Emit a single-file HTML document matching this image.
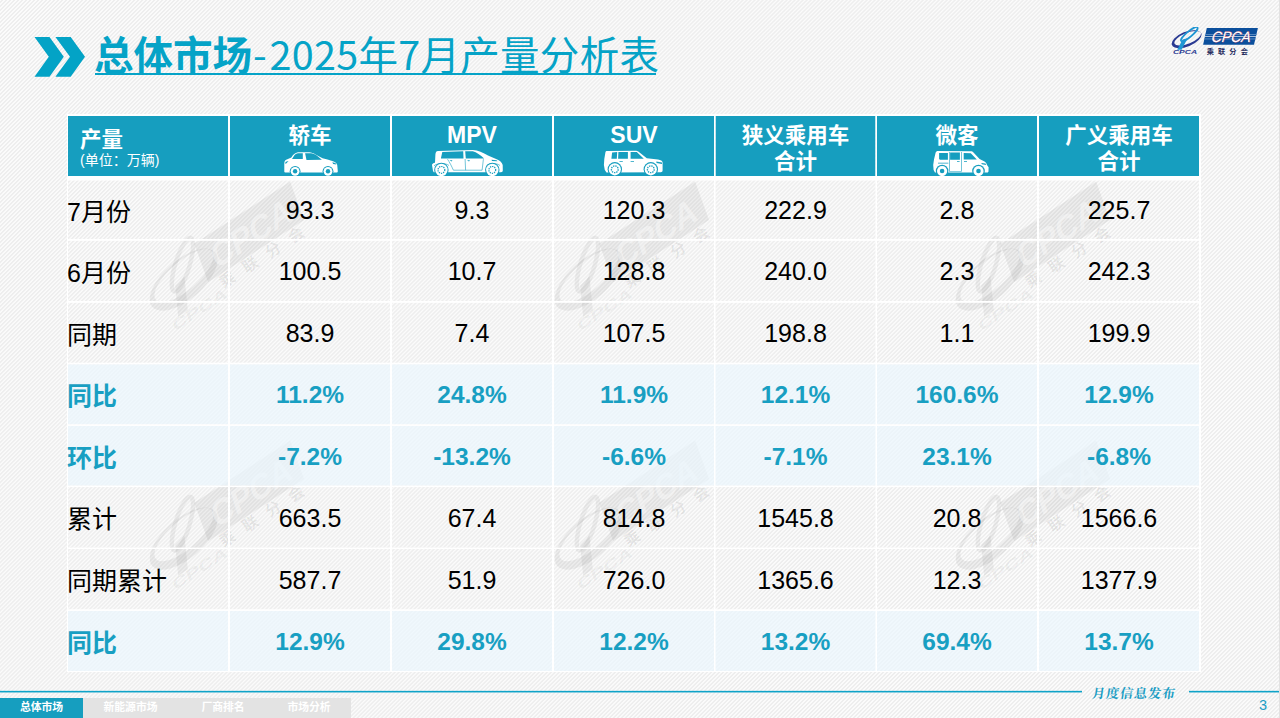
<!DOCTYPE html>
<html lang="zh-CN">
<head>
<meta charset="utf-8">
<title>总体市场-2025年7月产量分析表</title>
<style>
*{margin:0;padding:0;box-sizing:border-box}
html,body{width:1280px;height:718px;overflow:hidden}
body{position:relative;background-color:#f4f4f4;
background-image:repeating-linear-gradient(135deg,#fbfbfb 0px,#fbfbfb 0.8px,#eeeeee 1.3px,#eeeeee 2.3px,#fbfbfb 2.83px);
font-family:"Liberation Sans","Noto Sans CJK SC",sans-serif}
.abs{position:absolute}
#edge{position:absolute;right:0;top:0;width:1px;height:718px;background:#e2e2e2}
#title{position:absolute;left:94px;top:24.5px;height:56px;white-space:nowrap;color:#05a3c7;
font-family:"Noto Sans CJK SC","Liberation Sans",sans-serif;font-size:39.5px;line-height:56px}
#title b{font-weight:700}
#title span{font-weight:400;letter-spacing:0.3px}
#title .dash{font-style:normal;margin-left:1px;letter-spacing:2.8px}
#uline{position:absolute;left:95px;top:73px;width:561px;height:2px;background:#05a3c7}
.cell{position:absolute;display:flex;align-items:center;justify-content:center;text-align:center}
.hd{color:#fff;font-family:"Liberation Sans","Noto Sans CJK SC",sans-serif;font-weight:700;font-size:21.5px;line-height:26px}
.lbl{justify-content:flex-start;font-family:"Liberation Sans","Noto Sans CJK SC",sans-serif;font-size:25px;color:#000}
.num{font-family:"Liberation Sans",sans-serif;font-size:25px;color:#000}
.hl{color:#189fc2;font-weight:700}
.num.hl{font-size:24.5px;padding-top:1.6px}
.num{padding-top:1.8px}
.lbl{padding-left:0;margin-left:-1px}
.hdl{font-family:"Liberation Sans",sans-serif;font-size:23px;margin-top:-1px}
.tab{position:absolute;top:698px;height:20px;color:#fff;font-family:"Liberation Sans","Noto Sans CJK SC",sans-serif;font-weight:700;font-size:10.8px;line-height:18px;text-align:center}
</style>
</head>
<body>
<div id="edge"></div>

<!-- header chevrons -->
<svg class="abs" style="left:0;top:0" width="100" height="90" viewBox="0 0 100 90">
<polygon fill="#03a3c6" points="34.5,37 49.5,37 63.8,56.8 49.5,76.7 34.5,76.7 48.8,56.8"/>
<polygon fill="#03a3c6" points="55.4,37 70.7,37 85,56.8 70.7,76.7 55.4,76.7 70,56.8"/>
</svg>

<svg class="abs" style="left:1170px;top:27px" width="92" height="30" viewBox="0 0 92 30">
<path fill="#2a3a92" fill-rule="evenodd" d="M31.25,6.28 A15.8,7.4 -22 1 1 1.95,18.12 A15.8,7.4 -22 1 1 31.25,6.28 Z M30.87,5.98 A14.2,5.4 -22 1 1 4.53,16.62 A14.2,5.4 -22 1 1 30.87,5.98 Z"/>
<ellipse cx="19.3" cy="7.2" rx="10.6" ry="2.7" transform="rotate(-40 19.3 7.2)" fill="none" stroke="#1f96d3" stroke-width="1.7"/>
<polygon fill="#1f96d3" points="12.6,12.4 17.6,11.2 11.6,22.8 7.2,22.8"/>
<polygon fill="#0b4f9c" points="36.8,1.1 87.9,1.1 84,17.8 33.1,17.8"/>
<rect x="35.2" y="7" width="51.5" height="0.9" fill="#5d8fc6"/>
<rect x="34.7" y="9.1" width="51.5" height="0.9" fill="#b9cde6"/>
<rect x="34.1" y="11.5" width="51.5" height="0.9" fill="#5d8fc6"/>
<g transform="translate(40.5,15.3) skewX(-16)"><text x="0" y="0" font-family="Liberation Sans, sans-serif" font-size="15" textLength="39" lengthAdjust="spacingAndGlyphs" fill="#fff" stroke="#e0474c" stroke-width="0.5" paint-order="stroke">CPCA</text></g>
<text x="36.8" y="26.6" font-family="Noto Sans CJK SC, sans-serif" font-weight="700" font-size="7.2" letter-spacing="4.1" fill="#1f2a5c">乘联分会</text>
<text x="3" y="26.8" font-family="Liberation Sans, sans-serif" font-weight="700" font-style="italic" font-size="5.4" textLength="24" lengthAdjust="spacingAndGlyphs" fill="#2a3a92">CPCA</text>
</svg>
<div id="title"><b>总体市场</b><span><i class="dash">-</i>2025年7月产量分析表</span></div>
<div id="uline"></div>

<!-- WATERMARKS -->
<svg class="abs" style="left:0;top:0;pointer-events:none" width="1280" height="718"><g transform="translate(246.9,228.65) rotate(-33) scale(2.2) translate(-60.45,-9.45)"><g transform="translate(7,1) translate(16,12) scale(1.2) translate(-16,-12)"><path fill="#000" fill-opacity="0.055" fill-rule="evenodd" d="M32.25,10.00 A15.8,7.4 -8 1 1 0.95,14.40 A15.8,7.4 -8 1 1 32.25,10.00 Z M31.36,9.05 A14.0,5.2 -8 1 1 3.64,12.95 A14.0,5.2 -8 1 1 31.36,9.05 Z"/>
<ellipse cx="19.3" cy="7.2" rx="10.6" ry="2.7" transform="rotate(-40 19.3 7.2)" fill="none" stroke="#000" stroke-opacity="0.05" stroke-width="1.7"/>
<polygon fill="#000" fill-opacity="0.05" points="12.6,12.4 17.6,11.2 11.6,22.8 7.2,22.8"/>
<g transform="translate(3,26.8) skewX(-16)"><text x="0" y="0" font-family="Liberation Sans, sans-serif" font-weight="700" font-size="5.4" textLength="24" lengthAdjust="spacingAndGlyphs" fill="#000" fill-opacity="0.05">CPCA</text></g></g>
<polygon fill="#000" fill-opacity="0.055" points="36.6,2.2 88.6,2.2 84.4,20.3 32.4,20.3"/>
<g transform="translate(38.5,17.4) skewX(-16)"><text x="0" y="0" font-family="Liberation Sans, sans-serif" font-weight="700" font-size="15" textLength="42" lengthAdjust="spacingAndGlyphs" fill="#fff" fill-opacity="0.4">CPCA</text></g>
<text x="36.8" y="26.6" font-family="Noto Sans CJK SC, sans-serif" font-size="7.2" letter-spacing="5.2" font-weight="700" fill="#000" fill-opacity="0.07">乘联分会</text>
</g>
<g transform="translate(651.9,228.65) rotate(-33) scale(2.2) translate(-60.45,-9.45)"><g transform="translate(7,1) translate(16,12) scale(1.2) translate(-16,-12)"><path fill="#000" fill-opacity="0.055" fill-rule="evenodd" d="M32.25,10.00 A15.8,7.4 -8 1 1 0.95,14.40 A15.8,7.4 -8 1 1 32.25,10.00 Z M31.36,9.05 A14.0,5.2 -8 1 1 3.64,12.95 A14.0,5.2 -8 1 1 31.36,9.05 Z"/>
<ellipse cx="19.3" cy="7.2" rx="10.6" ry="2.7" transform="rotate(-40 19.3 7.2)" fill="none" stroke="#000" stroke-opacity="0.05" stroke-width="1.7"/>
<polygon fill="#000" fill-opacity="0.05" points="12.6,12.4 17.6,11.2 11.6,22.8 7.2,22.8"/>
<g transform="translate(3,26.8) skewX(-16)"><text x="0" y="0" font-family="Liberation Sans, sans-serif" font-weight="700" font-size="5.4" textLength="24" lengthAdjust="spacingAndGlyphs" fill="#000" fill-opacity="0.05">CPCA</text></g></g>
<polygon fill="#000" fill-opacity="0.055" points="36.6,2.2 88.6,2.2 84.4,20.3 32.4,20.3"/>
<g transform="translate(38.5,17.4) skewX(-16)"><text x="0" y="0" font-family="Liberation Sans, sans-serif" font-weight="700" font-size="15" textLength="42" lengthAdjust="spacingAndGlyphs" fill="#fff" fill-opacity="0.4">CPCA</text></g>
<text x="36.8" y="26.6" font-family="Noto Sans CJK SC, sans-serif" font-size="7.2" letter-spacing="5.2" font-weight="700" fill="#000" fill-opacity="0.07">乘联分会</text>
</g>
<g transform="translate(1052.9,228.65) rotate(-33) scale(2.2) translate(-60.45,-9.45)"><g transform="translate(7,1) translate(16,12) scale(1.2) translate(-16,-12)"><path fill="#000" fill-opacity="0.055" fill-rule="evenodd" d="M32.25,10.00 A15.8,7.4 -8 1 1 0.95,14.40 A15.8,7.4 -8 1 1 32.25,10.00 Z M31.36,9.05 A14.0,5.2 -8 1 1 3.64,12.95 A14.0,5.2 -8 1 1 31.36,9.05 Z"/>
<ellipse cx="19.3" cy="7.2" rx="10.6" ry="2.7" transform="rotate(-40 19.3 7.2)" fill="none" stroke="#000" stroke-opacity="0.05" stroke-width="1.7"/>
<polygon fill="#000" fill-opacity="0.05" points="12.6,12.4 17.6,11.2 11.6,22.8 7.2,22.8"/>
<g transform="translate(3,26.8) skewX(-16)"><text x="0" y="0" font-family="Liberation Sans, sans-serif" font-weight="700" font-size="5.4" textLength="24" lengthAdjust="spacingAndGlyphs" fill="#000" fill-opacity="0.05">CPCA</text></g></g>
<polygon fill="#000" fill-opacity="0.055" points="36.6,2.2 88.6,2.2 84.4,20.3 32.4,20.3"/>
<g transform="translate(38.5,17.4) skewX(-16)"><text x="0" y="0" font-family="Liberation Sans, sans-serif" font-weight="700" font-size="15" textLength="42" lengthAdjust="spacingAndGlyphs" fill="#fff" fill-opacity="0.4">CPCA</text></g>
<text x="36.8" y="26.6" font-family="Noto Sans CJK SC, sans-serif" font-size="7.2" letter-spacing="5.2" font-weight="700" fill="#000" fill-opacity="0.07">乘联分会</text>
</g>
<g transform="translate(246.9,487.65) rotate(-33) scale(2.2) translate(-60.45,-9.45)"><g transform="translate(7,1) translate(16,12) scale(1.2) translate(-16,-12)"><path fill="#000" fill-opacity="0.055" fill-rule="evenodd" d="M32.25,10.00 A15.8,7.4 -8 1 1 0.95,14.40 A15.8,7.4 -8 1 1 32.25,10.00 Z M31.36,9.05 A14.0,5.2 -8 1 1 3.64,12.95 A14.0,5.2 -8 1 1 31.36,9.05 Z"/>
<ellipse cx="19.3" cy="7.2" rx="10.6" ry="2.7" transform="rotate(-40 19.3 7.2)" fill="none" stroke="#000" stroke-opacity="0.05" stroke-width="1.7"/>
<polygon fill="#000" fill-opacity="0.05" points="12.6,12.4 17.6,11.2 11.6,22.8 7.2,22.8"/>
<g transform="translate(3,26.8) skewX(-16)"><text x="0" y="0" font-family="Liberation Sans, sans-serif" font-weight="700" font-size="5.4" textLength="24" lengthAdjust="spacingAndGlyphs" fill="#000" fill-opacity="0.05">CPCA</text></g></g>
<polygon fill="#000" fill-opacity="0.055" points="36.6,2.2 88.6,2.2 84.4,20.3 32.4,20.3"/>
<g transform="translate(38.5,17.4) skewX(-16)"><text x="0" y="0" font-family="Liberation Sans, sans-serif" font-weight="700" font-size="15" textLength="42" lengthAdjust="spacingAndGlyphs" fill="#fff" fill-opacity="0.4">CPCA</text></g>
<text x="36.8" y="26.6" font-family="Noto Sans CJK SC, sans-serif" font-size="7.2" letter-spacing="5.2" font-weight="700" fill="#000" fill-opacity="0.07">乘联分会</text>
</g>
<g transform="translate(651.9,487.65) rotate(-33) scale(2.2) translate(-60.45,-9.45)"><g transform="translate(7,1) translate(16,12) scale(1.2) translate(-16,-12)"><path fill="#000" fill-opacity="0.055" fill-rule="evenodd" d="M32.25,10.00 A15.8,7.4 -8 1 1 0.95,14.40 A15.8,7.4 -8 1 1 32.25,10.00 Z M31.36,9.05 A14.0,5.2 -8 1 1 3.64,12.95 A14.0,5.2 -8 1 1 31.36,9.05 Z"/>
<ellipse cx="19.3" cy="7.2" rx="10.6" ry="2.7" transform="rotate(-40 19.3 7.2)" fill="none" stroke="#000" stroke-opacity="0.05" stroke-width="1.7"/>
<polygon fill="#000" fill-opacity="0.05" points="12.6,12.4 17.6,11.2 11.6,22.8 7.2,22.8"/>
<g transform="translate(3,26.8) skewX(-16)"><text x="0" y="0" font-family="Liberation Sans, sans-serif" font-weight="700" font-size="5.4" textLength="24" lengthAdjust="spacingAndGlyphs" fill="#000" fill-opacity="0.05">CPCA</text></g></g>
<polygon fill="#000" fill-opacity="0.055" points="36.6,2.2 88.6,2.2 84.4,20.3 32.4,20.3"/>
<g transform="translate(38.5,17.4) skewX(-16)"><text x="0" y="0" font-family="Liberation Sans, sans-serif" font-weight="700" font-size="15" textLength="42" lengthAdjust="spacingAndGlyphs" fill="#fff" fill-opacity="0.4">CPCA</text></g>
<text x="36.8" y="26.6" font-family="Noto Sans CJK SC, sans-serif" font-size="7.2" letter-spacing="5.2" font-weight="700" fill="#000" fill-opacity="0.07">乘联分会</text>
</g>
<g transform="translate(1052.9,487.65) rotate(-33) scale(2.2) translate(-60.45,-9.45)"><g transform="translate(7,1) translate(16,12) scale(1.2) translate(-16,-12)"><path fill="#000" fill-opacity="0.055" fill-rule="evenodd" d="M32.25,10.00 A15.8,7.4 -8 1 1 0.95,14.40 A15.8,7.4 -8 1 1 32.25,10.00 Z M31.36,9.05 A14.0,5.2 -8 1 1 3.64,12.95 A14.0,5.2 -8 1 1 31.36,9.05 Z"/>
<ellipse cx="19.3" cy="7.2" rx="10.6" ry="2.7" transform="rotate(-40 19.3 7.2)" fill="none" stroke="#000" stroke-opacity="0.05" stroke-width="1.7"/>
<polygon fill="#000" fill-opacity="0.05" points="12.6,12.4 17.6,11.2 11.6,22.8 7.2,22.8"/>
<g transform="translate(3,26.8) skewX(-16)"><text x="0" y="0" font-family="Liberation Sans, sans-serif" font-weight="700" font-size="5.4" textLength="24" lengthAdjust="spacingAndGlyphs" fill="#000" fill-opacity="0.05">CPCA</text></g></g>
<polygon fill="#000" fill-opacity="0.055" points="36.6,2.2 88.6,2.2 84.4,20.3 32.4,20.3"/>
<g transform="translate(38.5,17.4) skewX(-16)"><text x="0" y="0" font-family="Liberation Sans, sans-serif" font-weight="700" font-size="15" textLength="42" lengthAdjust="spacingAndGlyphs" fill="#fff" fill-opacity="0.4">CPCA</text></g>
<text x="36.8" y="26.6" font-family="Noto Sans CJK SC, sans-serif" font-size="7.2" letter-spacing="5.2" font-weight="700" fill="#000" fill-opacity="0.07">乘联分会</text>
</g></svg>
<!-- TABLE GRID -->
<svg class="abs" style="left:0;top:0" width="1280" height="718">
<rect x="68" y="116" width="160.0" height="60" fill="#169ebf"/>
<rect x="230" y="116" width="160.0" height="60" fill="#169ebf"/>
<rect x="392" y="116" width="160.0" height="60" fill="#169ebf"/>
<rect x="554" y="116" width="160.0" height="60" fill="#169ebf"/>
<rect x="715.5" y="116" width="160.0" height="60" fill="#169ebf"/>
<rect x="877" y="116" width="160.0" height="60" fill="#169ebf"/>
<rect x="1039" y="116" width="160.0" height="60" fill="#169ebf"/>
<rect x="68" y="364.3" width="1131" height="60.0" fill="#ebf6fd" fill-opacity="0.7"/>
<rect x="68" y="425.9" width="1131" height="59.7" fill="#ebf6fd" fill-opacity="0.7"/>
<rect x="68" y="610.9" width="1131" height="60.1" fill="#ebf6fd" fill-opacity="0.7"/>
<rect x="67" y="114" width="1" height="558" fill="#fff"/>
<rect x="228" y="114" width="2" height="558" fill="#fff"/>
<rect x="390" y="114" width="2" height="558" fill="#fff"/>
<rect x="552" y="114" width="2" height="558" fill="#fff"/>
<rect x="714" y="114" width="1.5" height="558" fill="#fff"/>
<rect x="875.5" y="114" width="1.5" height="558" fill="#fff"/>
<rect x="1037" y="114" width="2" height="558" fill="#fff"/>
<rect x="1199" y="114" width="2" height="558" fill="#fff"/>
<rect x="67" y="114" width="1134" height="2.0" fill="#fff"/>
<rect x="67" y="176" width="1134" height="4.5" fill="#fff"/>
<rect x="67" y="239" width="1134" height="1.8" fill="#fff"/>
<rect x="67" y="301" width="1134" height="1.8" fill="#fff"/>
<rect x="67" y="362.7" width="1134" height="1.6" fill="#fff"/>
<rect x="67" y="424.3" width="1134" height="1.6" fill="#fff"/>
<rect x="67" y="485.6" width="1134" height="1.5" fill="#fff"/>
<rect x="67" y="547.6" width="1134" height="1.4" fill="#fff"/>
<rect x="67" y="609.3" width="1134" height="1.6" fill="#fff"/>
<rect x="67" y="671" width="1134" height="1.0" fill="#fff"/>
</svg>



<!-- HEADER TEXT -->
<div class="abs hd" style="left:80px;top:126.5px;text-align:left">产量</div>
<div class="abs" style="left:80px;top:150px;color:#fff;font-family:'Liberation Sans','Noto Sans CJK SC',sans-serif;font-size:14px;line-height:20px;white-space:nowrap">(单位：万辆)</div>
<div class="abs hd" style="left:230px;top:123px;width:160px;text-align:center">轿车</div>
<div class="abs hd hdl" style="left:392px;top:123px;width:160px;text-align:center">MPV</div>
<div class="abs hd hdl" style="left:554px;top:123px;width:160px;text-align:center">SUV</div>
<div class="abs hd" style="left:715.5px;top:123px;width:160px;text-align:center">狭义乘用车<br>合计</div>
<div class="abs hd" style="left:877px;top:123px;width:160px;text-align:center">微客</div>
<div class="abs hd" style="left:1039px;top:123px;width:160px;text-align:center">广义乘用车<br>合计</div>

<!-- sedan -->
<svg class="abs" style="left:282px;top:148px" width="60" height="28" viewBox="0 0 60 28">
<path fill="#fff" d="M2.3,23.8 L2.3,15.5 C2.3,12.8 3.5,11.6 5.4,11.3 L9.3,9.6 C11,6.5 13,5.1 15.9,4.3 L27.2,4.3 C29.5,4.4 31.5,5.2 33.5,6.6 L40.5,10.2 L45.5,11.6 L51,13.2 C53.5,14 54.6,15.2 55.2,16.8 L55.8,23.3 C55.8,24.1 55.3,24.6 54.6,24.6 L3.3,24.6 C2.7,24.6 2.3,24.3 2.3,23.8 Z"/>
<path fill="#169ebf" d="M10,10.9 L12.7,6.8 C13.8,5.8 14.8,5.3 15.9,5.2 L20.8,5.2 L20.8,10.9 Z M23.1,5.2 L29,5.3 C31,5.5 32.8,6.2 34.4,7.2 L39.9,11.8 L24.5,11.9 Z M50.3,14.3 L53.3,15 L54.4,16.6 L51.2,15.9 Z M2.9,15.6 L3.8,13.8 L6.6,13 L4.2,15.6 Z"/>
<circle cx="13.1" cy="23.3" r="5.4" fill="#169ebf"/><circle cx="46" cy="23.3" r="5.4" fill="#169ebf"/>
<circle cx="13.1" cy="23.3" r="4.4" fill="#fff"/><circle cx="46" cy="23.3" r="4.4" fill="#fff"/>
<circle cx="13.1" cy="23.3" r="2.2" fill="#169ebf"/><circle cx="46" cy="23.3" r="2.2" fill="#169ebf"/>
</svg>

<!-- mpv -->
<svg class="abs" style="left:428px;top:148px" width="80" height="28" viewBox="0 0 80 28">
<path fill="#fff" d="M5,23 L4,17 C4,16 5,15.2 7,14.8 L7.4,6.5 C7.6,4 8.5,3.1 10,3 L44.8,2 C50,2.2 55,4.5 60,7.5 L68.7,11.3 C71.5,12.5 74.2,14.5 74.7,17 L74.8,22.5 C74.8,23.5 74,24.2 73,24.2 L5.8,24.2 Z"/>
<path fill="#169ebf" d="M14.3,4 L35.2,3.3 L35.5,10.6 L12.9,10.6 Z M37.2,3.3 L44.8,3.3 C48.5,4.3 52.5,7 56.1,10.6 L37.8,10.6 Z M21.5,12.3 L24.5,12.3 L23.5,13.5 Z M39,12.3 L42,12.3 L41,13.5 Z M63.5,11.8 L68.5,12.3 L69.5,13.3 L64,13 Z"/>
<path fill="none" stroke="#169ebf" stroke-width="0.6" d="M19.5,11.2 C21.5,14 23.5,18 25.4,22.2 L54.1,22.2 L55.4,11.2 M37.1,11 L37.6,22.2 M6,17.8 C8,16 11,15.6 14,15.6 C17,15.6 19.5,16.3 21,17.5 M58.5,17.5 C60,16.3 62.5,15.6 65,15.6 C68,15.6 70.5,16.2 72,17.5"/>
<circle cx="13.4" cy="21.9" r="7.2" fill="#169ebf"/><circle cx="64.3" cy="21.9" r="7.2" fill="#169ebf"/>
<circle cx="13.4" cy="21.9" r="6.2" fill="#fff"/><circle cx="64.3" cy="21.9" r="6.2" fill="#fff"/>
<circle cx="13.4" cy="21.9" r="3.4" fill="none" stroke="#169ebf" stroke-width="1.2" stroke-dasharray="1.3 0.9"/><circle cx="64.3" cy="21.9" r="3.4" fill="none" stroke="#169ebf" stroke-width="1.2" stroke-dasharray="1.3 0.9"/>
</svg>

<!-- suv -->
<svg class="abs" style="left:600px;top:148px" width="66" height="28" viewBox="0 0 66 28">
<path fill="#fff" d="M6.5,24.5 L4.8,22 L3.9,17 L4.3,11 L5.4,4.5 C5.6,3.4 6.2,3 7.2,3 L35.5,2.7 C36.8,2.7 37.5,3 38.3,3.6 L46.8,10.3 L58,11.5 C60.8,11.9 62.3,12.8 62.6,14.5 L62.6,22.5 C62.6,23.6 61.8,24.2 60.8,24.2 Z"/>
<path fill="#169ebf" d="M12.1,4.4 L17.2,4.1 L16.8,10.7 L11.4,10.7 Z M18.4,4.1 L27.9,4.1 L27.9,10.7 L18.1,10.7 Z M30.6,4.1 L36.8,4.1 L43.8,10.7 L30.6,10.7 Z M19.5,13 L22.8,13 L22.8,13.7 L19.5,13.7 Z M30.6,13 L34,13 L34,13.7 L30.6,13.7 Z M56.3,13.6 L62,14.6 L62,16 L56.5,15 Z"/>
<circle cx="14.8" cy="21.3" r="7.2" fill="#169ebf"/><circle cx="50.8" cy="21.3" r="7.2" fill="#169ebf"/>
<circle cx="14.8" cy="21.3" r="6.1" fill="#fff"/><circle cx="50.8" cy="21.3" r="6.1" fill="#fff"/>
<circle cx="14.8" cy="21.3" r="3.4" fill="none" stroke="#169ebf" stroke-width="1.3" stroke-dasharray="1.4 0.9"/><circle cx="50.8" cy="21.3" r="3.4" fill="none" stroke="#169ebf" stroke-width="1.3" stroke-dasharray="1.4 0.9"/>
</svg>

<!-- van -->
<svg class="abs" style="left:926px;top:148px" width="66" height="28" viewBox="0 0 66 28">
<path fill="#fff" d="M9,24.6 L7.6,22 L7.2,17 L8,11.5 L9.6,4.8 C10,3.6 10.8,3 12,3 L44.8,3.3 C46,3.3 46.8,3.8 47.5,4.5 L53.6,10.9 L58.5,13.5 C60,14.2 60.6,15.5 61,17 L62.6,19.3 L62.5,23.3 C62.5,24.1 61.8,24.6 61,24.6 Z"/>
<path fill="#169ebf" d="M13.1,4.9 L21.9,4.9 L21.9,11.8 L14,11.8 L13.1,11 Z M24.1,4.6 L33.9,4.6 L33.9,11.8 L24.1,11.8 Z M37.7,4.9 L44.8,5.2 L50.8,11.5 L37.7,11.5 Z M12,14.7 L22.4,14.7 L22.4,15.5 L12,15.5 Z M23,4 L23.6,4 L23.6,23.5 L23,23.5 Z M35.2,4 L35.8,4 L35.8,23.5 L35.2,23.5 Z M23,23 L35.8,23 L35.8,23.6 L23,23.6 Z M31,13 L33.6,13 L33.6,13.8 L31,13.8 Z M38,13 L41,13 L41,13.8 L38,13.8 Z M55.2,15 L59.5,15.6 L60.2,17 L56,16.3 Z"/>
<circle cx="16.1" cy="23" r="6.3" fill="#169ebf"/><circle cx="52.5" cy="23" r="6.3" fill="#169ebf"/>
<circle cx="16.1" cy="23" r="5.1" fill="#fff"/><circle cx="52.5" cy="23" r="5.1" fill="#fff"/>
<circle cx="16.1" cy="23" r="2.3" fill="#169ebf"/><circle cx="52.5" cy="23" r="2.3" fill="#169ebf"/>
</svg>

<!-- DATA -->
<div class="cell lbl" style="left:68px;top:180.5px;width:160px;height:58.5px">7月份</div>
<div class="cell num" style="left:230px;top:180.5px;width:160px;height:58.5px">93.3</div>
<div class="cell num" style="left:392px;top:180.5px;width:160px;height:58.5px">9.3</div>
<div class="cell num" style="left:554px;top:180.5px;width:160px;height:58.5px">120.3</div>
<div class="cell num" style="left:715.5px;top:180.5px;width:160.0px;height:58.5px">222.9</div>
<div class="cell num" style="left:877px;top:180.5px;width:160px;height:58.5px">2.8</div>
<div class="cell num" style="left:1039px;top:180.5px;width:160px;height:58.5px">225.7</div>
<div class="cell lbl" style="left:68px;top:240.8px;width:160px;height:60.2px">6月份</div>
<div class="cell num" style="left:230px;top:240.8px;width:160px;height:60.2px">100.5</div>
<div class="cell num" style="left:392px;top:240.8px;width:160px;height:60.2px">10.7</div>
<div class="cell num" style="left:554px;top:240.8px;width:160px;height:60.2px">128.8</div>
<div class="cell num" style="left:715.5px;top:240.8px;width:160.0px;height:60.2px">240.0</div>
<div class="cell num" style="left:877px;top:240.8px;width:160px;height:60.2px">2.3</div>
<div class="cell num" style="left:1039px;top:240.8px;width:160px;height:60.2px">242.3</div>
<div class="cell lbl" style="left:68px;top:302.8px;width:160px;height:59.9px">同期</div>
<div class="cell num" style="left:230px;top:302.8px;width:160px;height:59.9px">83.9</div>
<div class="cell num" style="left:392px;top:302.8px;width:160px;height:59.9px">7.4</div>
<div class="cell num" style="left:554px;top:302.8px;width:160px;height:59.9px">107.5</div>
<div class="cell num" style="left:715.5px;top:302.8px;width:160.0px;height:59.9px">198.8</div>
<div class="cell num" style="left:877px;top:302.8px;width:160px;height:59.9px">1.1</div>
<div class="cell num" style="left:1039px;top:302.8px;width:160px;height:59.9px">199.9</div>
<div class="cell lbl hl" style="left:68px;top:364.3px;width:160px;height:60.0px">同比</div>
<div class="cell num hl" style="left:230px;top:364.3px;width:160px;height:60.0px">11.2%</div>
<div class="cell num hl" style="left:392px;top:364.3px;width:160px;height:60.0px">24.8%</div>
<div class="cell num hl" style="left:554px;top:364.3px;width:160px;height:60.0px">11.9%</div>
<div class="cell num hl" style="left:715.5px;top:364.3px;width:160.0px;height:60.0px">12.1%</div>
<div class="cell num hl" style="left:877px;top:364.3px;width:160px;height:60.0px">160.6%</div>
<div class="cell num hl" style="left:1039px;top:364.3px;width:160px;height:60.0px">12.9%</div>
<div class="cell lbl hl" style="left:68px;top:425.9px;width:160px;height:59.7px">环比</div>
<div class="cell num hl" style="left:230px;top:425.9px;width:160px;height:59.7px">-7.2%</div>
<div class="cell num hl" style="left:392px;top:425.9px;width:160px;height:59.7px">-13.2%</div>
<div class="cell num hl" style="left:554px;top:425.9px;width:160px;height:59.7px">-6.6%</div>
<div class="cell num hl" style="left:715.5px;top:425.9px;width:160.0px;height:59.7px">-7.1%</div>
<div class="cell num hl" style="left:877px;top:425.9px;width:160px;height:59.7px">23.1%</div>
<div class="cell num hl" style="left:1039px;top:425.9px;width:160px;height:59.7px">-6.8%</div>
<div class="cell lbl" style="left:68px;top:487.1px;width:160px;height:60.5px">累计</div>
<div class="cell num" style="left:230px;top:487.1px;width:160px;height:60.5px">663.5</div>
<div class="cell num" style="left:392px;top:487.1px;width:160px;height:60.5px">67.4</div>
<div class="cell num" style="left:554px;top:487.1px;width:160px;height:60.5px">814.8</div>
<div class="cell num" style="left:715.5px;top:487.1px;width:160.0px;height:60.5px">1545.8</div>
<div class="cell num" style="left:877px;top:487.1px;width:160px;height:60.5px">20.8</div>
<div class="cell num" style="left:1039px;top:487.1px;width:160px;height:60.5px">1566.6</div>
<div class="cell lbl" style="left:68px;top:549px;width:160px;height:60.3px">同期累计</div>
<div class="cell num" style="left:230px;top:549px;width:160px;height:60.3px">587.7</div>
<div class="cell num" style="left:392px;top:549px;width:160px;height:60.3px">51.9</div>
<div class="cell num" style="left:554px;top:549px;width:160px;height:60.3px">726.0</div>
<div class="cell num" style="left:715.5px;top:549px;width:160.0px;height:60.3px">1365.6</div>
<div class="cell num" style="left:877px;top:549px;width:160px;height:60.3px">12.3</div>
<div class="cell num" style="left:1039px;top:549px;width:160px;height:60.3px">1377.9</div>
<div class="cell lbl hl" style="left:68px;top:610.9px;width:160px;height:60.1px">同比</div>
<div class="cell num hl" style="left:230px;top:610.9px;width:160px;height:60.1px">12.9%</div>
<div class="cell num hl" style="left:392px;top:610.9px;width:160px;height:60.1px">29.8%</div>
<div class="cell num hl" style="left:554px;top:610.9px;width:160px;height:60.1px">12.2%</div>
<div class="cell num hl" style="left:715.5px;top:610.9px;width:160.0px;height:60.1px">13.2%</div>
<div class="cell num hl" style="left:877px;top:610.9px;width:160px;height:60.1px">69.4%</div>
<div class="cell num hl" style="left:1039px;top:610.9px;width:160px;height:60.1px">13.7%</div>

<!-- FOOTER -->
<svg class="abs" style="left:0;top:680px" width="1280" height="20"><rect x="0" y="10.85" width="1082" height="1.6" fill="#0fa3c8"/><rect x="1189" y="10.85" width="90" height="1.6" fill="#0fa3c8"/></svg>
<div class="abs" style="left:1092px;top:683.5px;width:86px;height:20px;color:#1a9dc4;font-family:'Liberation Serif','Noto Serif CJK SC',serif;font-weight:700;font-size:13px;line-height:20px;letter-spacing:1px;white-space:nowrap;transform:skewX(-8deg)">月度信息发布</div>
<div class="abs" style="left:1255px;top:697px;width:16px;height:16px;color:#1a9dc4;font-family:'Liberation Sans',sans-serif;font-size:14.5px;line-height:16px;text-align:center">3</div>
<div class="abs" style="left:83px;top:698px;width:268px;height:20px;background:#e3e3e3"></div>
<div class="tab" style="left:0;width:83px;background:#169ebf">总体市场</div>
<div class="tab" style="left:83px;width:95px">新能源市场</div>
<div class="tab" style="left:178px;width:90px">厂商排名</div>
<div class="tab" style="left:268px;width:82px">市场分析</div>
</body>
</html>
